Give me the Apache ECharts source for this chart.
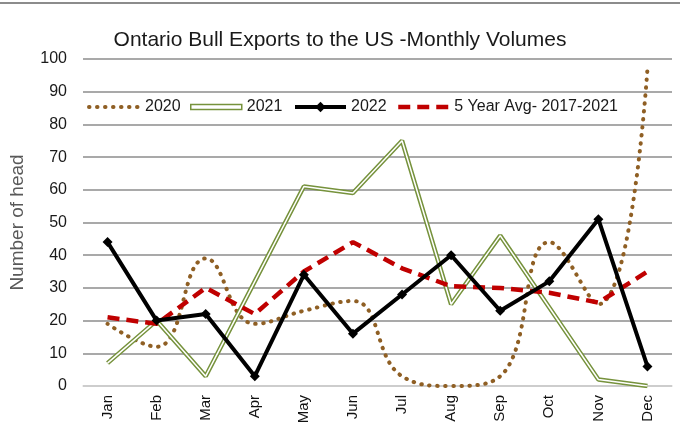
<!DOCTYPE html>
<html>
<head>
<meta charset="utf-8">
<script src="https://cdn.jsdelivr.net/npm/echarts@6/dist/echarts.min.js"></script>
<style>html,body{margin:0;padding:0;background:#fff}#c{width:680px;height:433px}</style>
</head>
<body>
<div id="c"></div>
<script>
var months = ['Jan','Feb','Mar','Apr','May','Jun','Jul','Aug','Sep','Oct','Nov','Dec'];
var y2020 = [19, 12, 39, 19, 23, 26, 3, 0, 3, 44, 25, 97];
var y2021 = [7, 20, 3, 32, 61, 59, 75, 25, 46, 24, 2, 0];
var y2022 = [44, 20, 22, 3, 34, 16, 28, 40, 23, 32, 51, 6];
var avg5 = [21, 19, 30, 22, 35, 44, 36, 30.5, 30, 28.5, 25.5, 35];
var seriesNames = ['2020', '2021', '2022', '5 Year Avg- 2017-2021'];
var yTicks = {min: 0, max: 100, interval: 10};

var FONT = '"Liberation Sans", Arial, sans-serif';
var legendText = {fontFamily: FONT, fontSize: 16, color: '#1a1a1a'};
function leg(name, left, h, extra) {
  var item = {name: name};
  if (extra) { for (var k in extra) item[k] = extra[k]; }
  return {
    left: left, top: 108 - Math.max(h, 18) / 2, orient: 'horizontal',
    itemWidth: 51, itemHeight: h, padding: 0, itemGap: 0,
    textStyle: legendText, selectedMode: false,
    data: [item]
  };
}
var chart = echarts.init(document.getElementById('c'), null, {renderer: 'canvas'});
var opt = {
  animation: false,
  backgroundColor: '#fff',
  title: {
    text: 'Ontario Bull Exports to the US -Monthly Volumes',
    left: 'center', top: 25,
    textStyle: {fontFamily: FONT, fontSize: 21, fontWeight: 'normal', color: '#1a1a1a'}
  },
  graphic: [{type: 'line', shape: {x1: 0, y1: 3, x2: 680, y2: 3}, style: {stroke: '#8c8c8c', lineWidth: 2}}],
  legend: [
    leg(seriesNames[0], 87, 10, {itemStyle: {opacity: 0}, lineStyle: {width: 4, cap: 'round', type: [0.5, 7.5]}}),
    leg(seriesNames[1], 190, 5, {icon: 'rect', itemStyle: {color: '#fff', borderColor: '#76923c', borderWidth: 1.5}}),
    leg(seriesNames[2], 293, 13, {lineStyle: {width: 4}}),
    leg(seriesNames[3], 396, 10, {itemStyle: {opacity: 0}, lineStyle: {width: 4.5, type: [12, 7]}})
  ],
  grid: {left: 70, right: 8, top: 59, bottom: 47},
  xAxis: {
    type: 'category', data: months, boundaryGap: true,
    axisLine: {lineStyle: {color: '#d9d9d9', width: 1.5}},
    axisTick: {show: false},
    axisLabel: {rotate: 90, margin: 9, fontFamily: FONT, fontSize: 15, color: '#111', interval: 0}
  },
  yAxis: {
    type: 'value', min: yTicks.min, max: yTicks.max, interval: yTicks.interval,
    name: 'Number of head', nameLocation: 'middle', nameGap: 56, nameRotate: 90,
    nameTextStyle: {fontFamily: FONT, fontSize: 19, color: '#595959'},
    axisLine: {show: false}, axisTick: {show: false},
    axisLabel: {margin: 16, fontFamily: FONT, fontSize: 16, color: '#1a1a1a'},
    splitLine: {lineStyle: {color: '#8c8c8c', width: 1.5}}
  },
  series: [
    {
      name: seriesNames[0], type: 'line', data: y2020, smooth: 0.45, symbol: 'none',
      lineStyle: {color: '#8f5f24', width: 4, type: [0.5, 7.5], cap: 'round'},
      itemStyle: {color: '#8f5f24'}, z: 2
    },
    {
      name: seriesNames[1], type: 'line', data: y2021, symbol: 'none',
      lineStyle: {color: '#76923c', width: 4.5}, itemStyle: {color: '#76923c'}, z: 3
    },
    {
      name: '2021 inner', type: 'line', data: y2021, symbol: 'none',
      lineStyle: {color: '#ffffff', width: 1.5}, z: 4, silent: true
    },
    {
      name: seriesNames[2], type: 'line', data: y2022, symbol: 'diamond', symbolSize: 10,
      lineStyle: {color: '#000', width: 4}, itemStyle: {color: '#000'}, z: 6
    },
    {
      name: seriesNames[3], type: 'line', data: avg5, symbol: 'none',
      lineStyle: {color: '#c00000', width: 4.5, type: [12, 7]}, itemStyle: {color: '#c00000'}, z: 5
    }
  ]
};
chart.setOption(opt);
</script>
</body>
</html>
